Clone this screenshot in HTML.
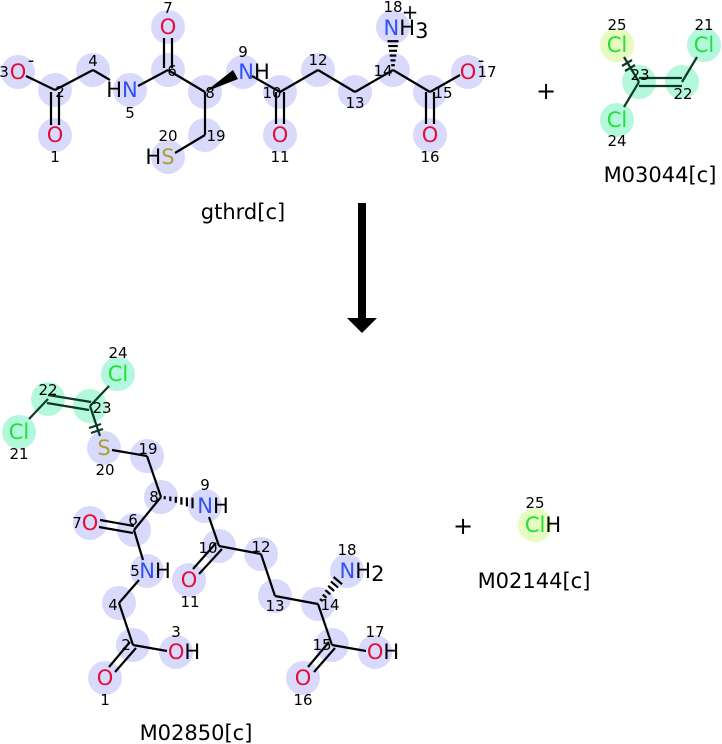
<!DOCTYPE html>
<html><head><meta charset="utf-8"><style>
html,body{margin:0;padding:0;background:#fff;}
svg{display:block;}
.n{font-family:"DejaVu Sans","Liberation Sans",sans-serif;font-size:15px;fill:#000;text-anchor:middle;}
.a{font-family:"DejaVu Sans","Liberation Sans",sans-serif;font-size:21px;text-anchor:middle;}
.O{fill:#e0103a}.N{fill:#3050f8}.S{fill:#a8a030}.Cl{fill:#22e03a}.H{fill:#000}
.lbl{font-family:"DejaVu Sans","Liberation Sans",sans-serif;font-size:21px;fill:#000;text-anchor:middle;}
</style></head><body>
<svg width="722" height="744" viewBox="0 0 722 744" xmlns="http://www.w3.org/2000/svg">
<g fill="#d9d9fb">
<circle cx="18" cy="72" r="17"/><circle cx="55" cy="90" r="17"/><circle cx="93" cy="70" r="17"/><circle cx="130" cy="90" r="17"/>
<circle cx="168" cy="70" r="17"/><circle cx="168" cy="27" r="17"/><circle cx="205" cy="92" r="17"/><circle cx="243" cy="72" r="17"/>
<circle cx="280" cy="92" r="17"/><circle cx="280" cy="135" r="17"/><circle cx="318" cy="70" r="17"/><circle cx="355" cy="92" r="17"/>
<circle cx="393" cy="70" r="17"/><circle cx="393" cy="27" r="17"/><circle cx="430" cy="92" r="17"/><circle cx="430" cy="135" r="17"/>
<circle cx="468" cy="72" r="17"/><circle cx="205" cy="135" r="17"/><circle cx="168" cy="157" r="17"/><circle cx="55" cy="135" r="17"/>
<circle cx="104" cy="448" r="17"/><circle cx="147" cy="456" r="17"/><circle cx="161" cy="497" r="17"/><circle cx="205" cy="506" r="17"/>
<circle cx="134" cy="530" r="17"/><circle cx="90" cy="523" r="17"/><circle cx="147" cy="571" r="17"/><circle cx="219" cy="546" r="17"/>
<circle cx="189" cy="580" r="17"/><circle cx="261" cy="554" r="17"/><circle cx="275" cy="596" r="17"/><circle cx="318" cy="604" r="17"/>
<circle cx="347" cy="571" r="17"/><circle cx="119" cy="603" r="17"/><circle cx="133" cy="645" r="17"/><circle cx="176" cy="652" r="17"/>
<circle cx="105" cy="678" r="17"/><circle cx="332" cy="645" r="17"/><circle cx="303" cy="678" r="17"/><circle cx="375" cy="652" r="17"/>
</g>
<g fill="#b3f8dc">
<circle cx="704" cy="45" r="17"/><circle cx="639" cy="82" r="17"/><circle cx="682" cy="82" r="17"/><circle cx="617" cy="120" r="17"/>
<circle cx="118" cy="374" r="17"/><circle cx="48" cy="399" r="17"/><circle cx="90" cy="406" r="17"/><circle cx="19" cy="432" r="17"/>
</g>
<g fill="#e6fbbf"><circle cx="617" cy="45" r="17"/><circle cx="535" cy="525" r="17"/></g>

<g stroke="#000" stroke-width="2.2" fill="none" stroke-linecap="butt">
<line x1="26" y1="76" x2="55" y2="90"/>
<line x1="51" y1="92" x2="51" y2="125"/><line x1="59" y1="92" x2="59" y2="125"/>
<line x1="55" y1="90" x2="93" y2="70"/><line x1="93" y1="70" x2="110" y2="80"/>
<line x1="138" y1="86" x2="168" y2="70"/>
<line x1="164" y1="68" x2="164" y2="38"/><line x1="172" y1="68" x2="172" y2="38"/>
<line x1="168" y1="70" x2="205" y2="92"/>
<line x1="205" y1="92" x2="205" y2="135"/><line x1="205" y1="135" x2="175" y2="153"/>
<line x1="252" y1="76" x2="280" y2="92"/>
<line x1="276" y1="92" x2="276" y2="124"/><line x1="284" y1="92" x2="284" y2="124"/>
<line x1="280" y1="92" x2="318" y2="70"/><line x1="318" y1="70" x2="355" y2="92"/><line x1="355" y1="92" x2="393" y2="70"/>
<line x1="393" y1="70" x2="430" y2="92"/><line x1="430" y1="92" x2="460" y2="75"/>
<line x1="426" y1="92" x2="426" y2="124"/><line x1="434" y1="92" x2="434" y2="124"/>
<line x1="391.2" y1="65.2" x2="394.8" y2="65.2"/><line x1="390.5" y1="60.4" x2="395.5" y2="60.4"/>
<line x1="389.7" y1="55.6" x2="396.3" y2="55.6"/><line x1="389" y1="50.8" x2="397" y2="50.8"/>
<line x1="388.2" y1="46" x2="397.8" y2="46"/><line x1="387.5" y1="41.2" x2="398.5" y2="41.2"/>
<line x1="112" y1="450" x2="147" y2="456"/><line x1="147" y1="456" x2="161" y2="497"/>
<line x1="161" y1="497" x2="134" y2="530"/>
<line x1="134" y1="526" x2="100" y2="520"/><line x1="133" y1="533" x2="99" y2="527"/>
<line x1="134" y1="530" x2="143" y2="560"/>
<line x1="209" y1="517" x2="219" y2="546"/>
<line x1="216" y1="543" x2="193" y2="569"/><line x1="222" y1="549" x2="199" y2="574"/>
<line x1="219" y1="546" x2="261" y2="554"/><line x1="261" y1="554" x2="275" y2="596"/><line x1="275" y1="596" x2="318" y2="604"/>
<line x1="318" y1="604" x2="332" y2="645"/><line x1="332" y1="645" x2="366" y2="651"/>
<line x1="329" y1="642" x2="308" y2="667"/><line x1="335" y1="648" x2="314" y2="672"/>
<line x1="139" y1="580" x2="119" y2="603"/><line x1="119" y1="603" x2="133" y2="645"/><line x1="133" y1="645" x2="167" y2="651"/>
<line x1="130" y1="642" x2="109" y2="667"/><line x1="136" y1="648" x2="115" y2="672"/>
<line x1="164.7" y1="496.2" x2="164.7" y2="499.2"/><line x1="170.3" y1="496.5" x2="170.3" y2="501.1"/>
<line x1="175.8" y1="496.8" x2="175.8" y2="502.8"/><line x1="181.4" y1="497.1" x2="181.4" y2="504.7"/>
<line x1="186.9" y1="497.4" x2="186.9" y2="506.4"/><line x1="192.5" y1="497.7" x2="192.5" y2="508.3"/>
<line x1="320" y1="599" x2="322.6" y2="601.2"/><line x1="322.7" y1="594.6" x2="326.5" y2="597.8"/>
<line x1="325.4" y1="590.2" x2="330.4" y2="594.4"/><line x1="328.2" y1="585.8" x2="334.2" y2="591"/>
<line x1="330.9" y1="581.4" x2="338.1" y2="587.6"/><line x1="333.6" y1="577" x2="342" y2="584.2"/>
</g>
<polygon points="205,92 233,70 238,79" fill="#000"/>
<g stroke="#0c3a24" stroke-width="2.2" fill="none">
<line x1="639" y1="78" x2="682" y2="78"/><line x1="639" y1="86" x2="682" y2="86"/>
<line x1="682" y1="82" x2="697" y2="57"/><line x1="639" y1="82" x2="624" y2="107"/>
<line x1="639" y1="82" x2="624" y2="57"/>
<line x1="625" y1="71" x2="635" y2="65"/><line x1="622" y1="66" x2="632" y2="60"/>
<line x1="48" y1="395" x2="91" y2="402"/><line x1="47" y1="403" x2="89" y2="410"/>
<line x1="48" y1="399" x2="29" y2="419"/><line x1="90" y1="406" x2="109" y2="386"/>
<line x1="90" y1="406" x2="100" y2="436"/>
<line x1="89" y1="428" x2="101" y2="424"/><line x1="91" y1="433" x2="103" y2="429"/>
</g>

<text class="a O" x="18" y="79">O</text>
<text class="a O" x="55" y="142">O</text>
<text class="a" x="122" y="97"><tspan class="H">H</tspan><tspan class="N">N</tspan></text>
<text class="a O" x="168" y="34">O</text>
<text class="a" x="254" y="79"><tspan class="N">N</tspan><tspan class="H">H</tspan></text>
<text class="a O" x="280" y="142">O</text>
<text class="a" x="406" y="35"><tspan class="N">N</tspan><tspan class="H">H</tspan><tspan class="H" dy="3">3</tspan></text>
<text class="a O" x="430" y="142">O</text>
<text class="a O" x="468" y="79">O</text>
<text class="a" x="160" y="164"><tspan class="H">H</tspan><tspan class="S">S</tspan></text>
<text class="a H" x="31" y="66" style="font-size:18px">-</text>
<text class="a H" x="481" y="66" style="font-size:18px">-</text>
<text class="a H" x="410" y="19" style="font-size:20px">+</text>
<text class="n" x="4" y="77">3</text><text class="n" x="60" y="97">2</text><text class="n" x="93" y="66">4</text>
<text class="n" x="130" y="118">5</text><text class="n" x="172" y="76">6</text><text class="n" x="168" y="13">7</text>
<text class="n" x="210" y="98">8</text><text class="n" x="243" y="57">9</text><text class="n" x="272" y="98">10</text>
<text class="n" x="280" y="162">11</text><text class="n" x="318" y="65">12</text><text class="n" x="355" y="108">13</text>
<text class="n" x="383" y="76">14</text><text class="n" x="443" y="98">15</text><text class="n" x="430" y="162">16</text>
<text class="n" x="487" y="77">17</text><text class="n" x="393" y="12">18</text><text class="n" x="216" y="141">19</text>
<text class="n" x="168" y="141">20</text><text class="n" x="55" y="162">1</text>
<text class="a Cl" x="617" y="52">Cl</text><text class="a Cl" x="704" y="52">Cl</text><text class="a Cl" x="617" y="127">Cl</text>
<text class="n" x="617" y="30">25</text><text class="n" x="704" y="30">21</text><text class="n" x="640" y="80">23</text>
<text class="n" x="683" y="99">22</text><text class="n" x="617" y="146">24</text>
<text class="lbl" x="660" y="182">M03044[c]</text>
<text class="lbl" x="243" y="219">gthrd[c]</text>
<text x="546" y="99" style="font-family:'DejaVu Sans',sans-serif;font-size:24px;text-anchor:middle">+</text>
<rect x="358" y="203" width="8" height="116" fill="#000"/>
<polygon points="347,318 377,318 362,333" fill="#000"/>

<text class="a Cl" x="118" y="381">Cl</text><text class="a Cl" x="19" y="439">Cl</text>
<text class="a S" x="104" y="455">S</text>
<text class="a" x="213" y="513"><tspan class="N">N</tspan><tspan class="H">H</tspan></text>
<text class="a O" x="90" y="530">O</text>
<text class="a" x="155" y="578"><tspan class="N">N</tspan><tspan class="H">H</tspan></text>
<text class="a O" x="189" y="587">O</text>
<text class="a" x="362" y="578"><tspan class="N">N</tspan><tspan class="H">H</tspan><tspan class="H" dy="3">2</tspan></text>
<text class="a" x="184" y="659"><tspan class="O">O</tspan><tspan class="H">H</tspan></text>
<text class="a O" x="105" y="685">O</text>
<text class="a O" x="303" y="685">O</text>
<text class="a" x="383" y="659"><tspan class="O">O</tspan><tspan class="H">H</tspan></text>
<text class="n" x="118" y="358">24</text><text class="n" x="48" y="395">22</text><text class="n" x="102" y="413">23</text>
<text class="n" x="19" y="459">21</text><text class="n" x="105" y="475">20</text><text class="n" x="148" y="454">19</text>
<text class="n" x="205" y="490">9</text><text class="n" x="154" y="502">8</text><text class="n" x="77" y="528">7</text>
<text class="n" x="133" y="525">6</text><text class="n" x="135" y="576">5</text><text class="n" x="208" y="553">10</text>
<text class="n" x="190" y="607">11</text><text class="n" x="261" y="552">12</text><text class="n" x="275" y="611">13</text>
<text class="n" x="347" y="555">18</text><text class="n" x="330" y="610">14</text><text class="n" x="113" y="610">4</text>
<text class="n" x="176" y="637">3</text><text class="n" x="126" y="650">2</text><text class="n" x="105" y="705">1</text>
<text class="n" x="322" y="650">15</text><text class="n" x="375" y="637">17</text><text class="n" x="303" y="705">16</text>
<text class="lbl" x="196" y="740">M02850[c]</text>
<text x="463" y="534" style="font-family:'DejaVu Sans',sans-serif;font-size:24px;text-anchor:middle">+</text>
<text class="a" x="543" y="532"><tspan class="Cl">Cl</tspan><tspan class="H">H</tspan></text>
<text class="n" x="535" y="508">25</text>
<text class="lbl" x="534" y="588">M02144[c]</text>
</svg>
</body></html>
